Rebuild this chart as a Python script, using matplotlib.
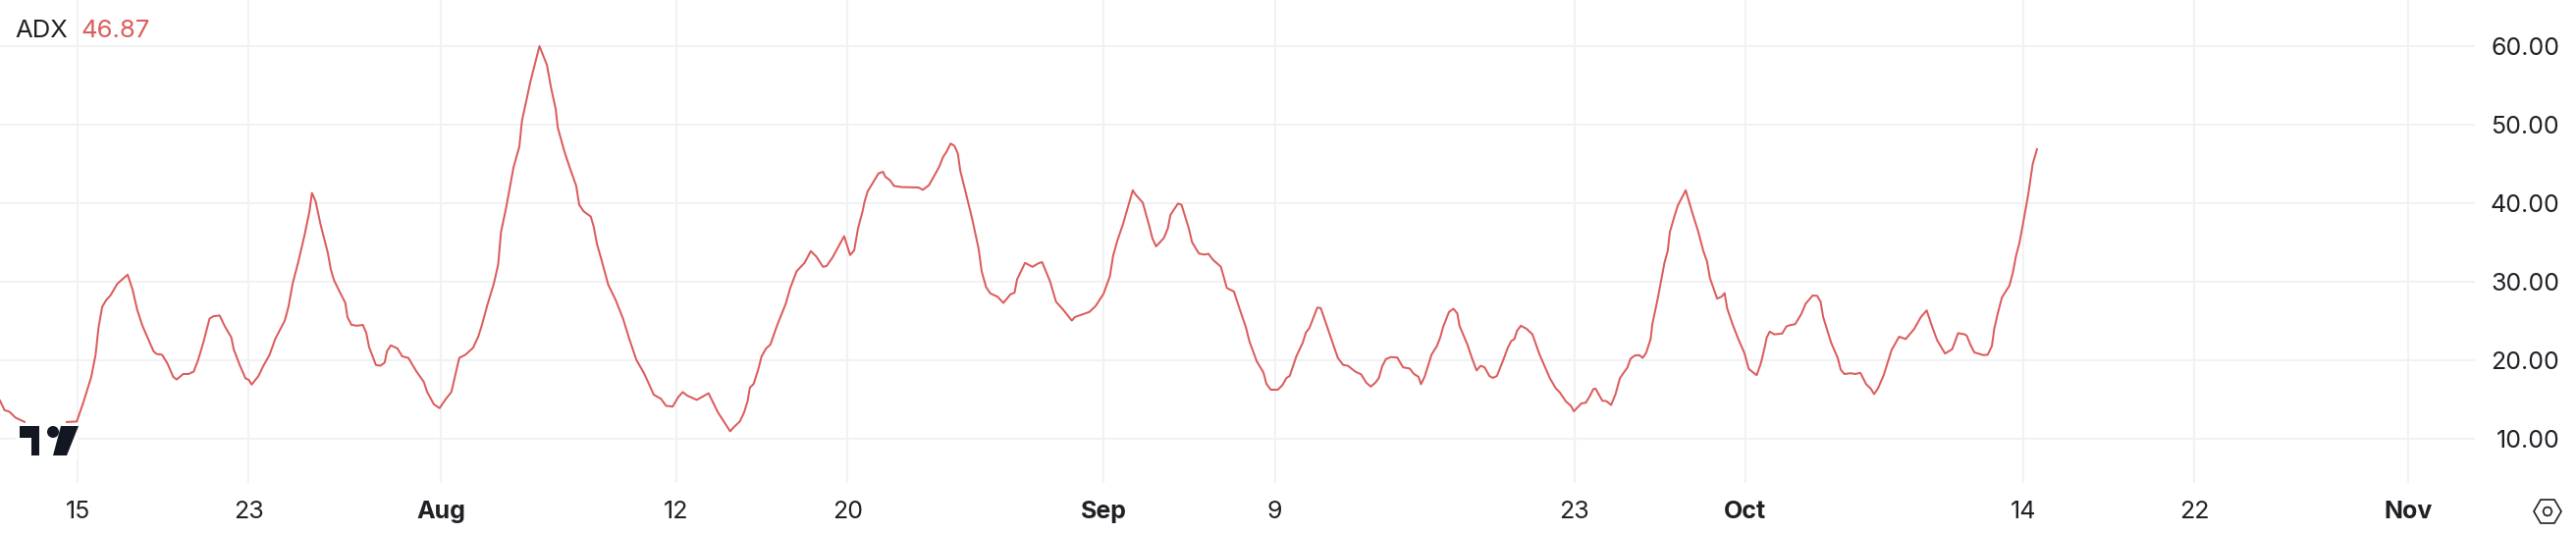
import matplotlib.pyplot as plt
from matplotlib.patches import Polygon, Circle, Rectangle

plt.rcParams["font.family"] = ["Inter", "DejaVu Sans"]

# days counted from 1 Jul
days = [
    10.37, 10.58, 10.82, 11.09, 11.5, 12.42, 13.45, 13.96, 14.27, 14.64, 14.84, 14.98, 15.15, 15.34, 15.54, 15.86,
    16.34, 16.57, 16.79, 17.03, 17.55, 17.69, 17.95, 18.2, 18.47, 18.63, 18.94, 19.18, 19.43, 19.64, 19.9, 20.17,
    20.35, 20.64, 20.89, 21.19, 21.3, 21.58, 21.85, 22.01, 22.14, 22.46, 22.67, 22.98, 23.24, 23.69, 23.86, 24.06,
    24.31, 24.61, 24.84, 24.96, 25.13, 25.37, 25.7, 25.84, 25.99, 26.25, 26.52, 26.62, 26.81, 27.07, 27.34, 27.5,
    27.63, 27.95, 28.16, 28.36, 28.47, 28.65, 28.96, 29.18, 29.47, 29.84, 30.19, 30.35, 30.66, 30.93, 31.23, 31.48,
    31.68, 31.85, 32.14, 32.5, 32.75, 32.92, 33.16, 33.47, 33.67, 33.8, 34.04, 34.39, 34.66, 34.78, 35.17, 35.6,
    35.95, 36.15, 36.36, 36.46, 36.77, 37.01, 37.32, 37.46, 37.67, 38.0, 38.14, 38.29, 38.49, 38.82, 39.16, 39.51,
    39.78, 40.13, 40.5, 40.95, 41.28, 41.52, 41.83, 42.09, 42.3, 42.51, 42.96, 43.51, 43.94, 44.52, 44.66, 44.97,
    45.17, 45.34, 45.44, 45.62, 45.83, 45.99, 46.2, 46.4, 46.71, 47.12, 47.33, 47.63, 48.0, 48.29, 48.55, 48.86,
    49.03, 49.31, 49.85, 50.13, 50.32, 50.5, 50.71, 50.81, 50.95, 51.46, 51.67, 51.77, 52.0, 52.18, 52.55, 53.33,
    53.53, 53.82, 54.29, 54.48, 54.64, 54.83, 55.01, 55.17, 55.28, 55.52, 55.83, 56.14, 56.28, 56.49, 56.69, 57.02,
    57.3, 57.63, 57.82, 57.94, 58.31, 58.66, 58.94, 59.11, 59.48, 59.76, 60.09, 60.5, 60.64, 61.05, 61.32, 61.61,
    61.98, 62.28, 62.43, 62.63, 62.9, 63.35, 63.45, 63.82, 64.13, 64.27, 64.44, 64.8, 64.99, 65.11, 65.46, 65.63,
    65.97, 66.12, 66.44, 66.69, 66.89, 67.1, 67.47, 67.75, 68.08, 68.37, 68.64, 68.8, 69.15, 69.46, 69.6, 69.8,
    70.13, 70.34, 70.54, 70.69, 71.0, 71.3, 71.45, 71.61, 71.98, 72.14, 72.53, 72.94, 73.19, 73.41, 73.76, 74.03,
    74.27, 74.48, 74.7, 74.86, 75.01, 75.19, 75.42, 75.72, 75.99, 76.3, 76.5, 76.71, 76.83, 77.0, 77.32, 77.57,
    77.73, 77.86, 78.14, 78.35, 78.53, 78.63, 79.0, 79.21, 79.43, 79.62, 79.8, 80.03, 80.19, 80.38, 80.68, 80.89,
    81.05, 81.2, 81.32, 81.5, 81.77, 82.04, 82.38, 82.86, 83.14, 83.31, 83.61, 83.84, 83.98, 84.33, 84.54, 84.74,
    84.88, 84.99, 85.31, 85.5, 85.72, 85.93, 86.13, 86.28, 86.48, 86.63, 86.83, 87.04, 87.2, 87.36, 87.57, 87.65,
    87.92, 88.22, 88.37, 88.47, 88.68, 88.84, 89.21, 89.5, 89.8, 90.03, 90.21, 90.34, 90.68, 90.89, 91.03, 91.15,
    91.4, 91.67, 91.95, 92.16, 92.36, 92.53, 92.73, 92.9, 93.0, 93.14, 93.35, 93.72, 93.92, 94.06, 94.33, 94.62,
    94.82, 95.15, 95.36, 95.52, 95.64, 96.01, 96.32, 96.46, 96.63, 96.93, 97.14, 97.38, 97.65, 97.86, 98.02, 98.2,
    98.47, 98.84, 99.19, 99.5, 99.9, 100.21, 100.48, 100.72, 100.97, 101.34, 101.67, 101.79, 101.95, 102.26, 102.36,
    102.53, 102.71, 103.14, 103.33, 103.53, 103.64, 103.8, 104.0, 104.35, 104.51, 104.66, 104.82, 104.99, 105.23,
    105.44, 105.64,
]
adx = [
    14.86, 13.65, 13.43, 12.7, 12.17, 11.6, 12.13, 12.2, 14.65, 17.9, 20.7, 24.2, 26.8, 27.67, 28.27, 29.75,
    30.9, 29.0, 26.4, 24.4, 21.15, 20.8, 20.7, 19.6, 17.9, 17.55, 18.25, 18.25, 18.55, 20.07, 22.45, 25.3,
    25.6, 25.7, 24.3, 22.9, 21.4, 19.4, 17.7, 17.5, 16.9, 18.0, 19.2, 20.7, 22.7, 25.06, 26.8, 29.8,
    32.4, 35.9, 38.9, 41.3, 40.25, 37.2, 33.7, 31.6, 30.2, 28.75, 27.3, 25.5, 24.5, 24.4, 24.5, 23.5,
    21.7, 19.4, 19.3, 19.7, 21.15, 21.9, 21.5, 20.5, 20.3, 18.6, 17.25, 15.95, 14.4, 13.9, 15.1, 15.95,
    18.3, 20.3, 20.7, 21.6, 23.1, 24.6, 27.0, 29.8, 32.2, 36.3, 39.4, 44.6, 47.2, 50.45, 55.4, 60.0,
    57.6, 54.6, 52.0, 49.6, 46.55, 44.6, 42.2, 39.8, 38.95, 38.3, 37.0, 34.8, 32.9, 29.6, 27.7, 25.3,
    22.9, 20.07, 18.3, 15.6, 15.1, 14.2, 14.1, 15.3, 15.95, 15.5, 14.95, 15.8, 13.4, 10.95, 11.4, 12.2,
    13.35, 14.85, 16.5, 17.0, 18.8, 20.5, 21.5, 22.0, 24.4, 27.2, 29.2, 31.35, 32.4, 33.9, 33.2, 31.9,
    32.0, 33.1, 35.8, 33.4, 34.0, 36.8, 38.95, 40.25, 41.5, 43.8, 44.0, 43.4, 42.9, 42.2, 42.05, 42.0,
    41.7, 42.3, 44.6, 45.9, 46.55, 47.6, 47.3, 46.3, 44.15, 41.55, 38.1, 34.2, 31.35, 29.3, 28.5, 28.1,
    27.3, 28.4, 28.6, 30.3, 32.4, 31.9, 32.35, 32.5, 30.05, 27.45, 26.45, 25.05, 25.5, 25.9, 26.15, 26.9,
    28.45, 30.7, 33.3, 35.25, 37.4, 41.65, 41.2, 40.05, 37.0, 35.5, 34.5, 35.55, 36.8, 38.5, 39.95, 39.8,
    36.8, 35.05, 33.6, 33.45, 33.55, 32.8, 31.9, 29.2, 28.75, 26.35, 24.2, 22.45, 19.85, 18.45, 17.0, 16.25,
    16.25, 16.8, 17.75, 18.0, 20.5, 22.25, 23.55, 24.1, 26.7, 26.65, 23.55, 20.3, 19.4, 19.3, 18.55, 18.2,
    17.15, 16.65, 17.15, 17.75, 19.2, 20.15, 20.4, 20.35, 19.1, 18.95, 18.25, 17.9, 16.95, 17.9, 20.7, 21.8,
    22.9, 24.2, 26.15, 26.55, 25.95, 24.4, 22.0, 20.3, 18.7, 19.3, 19.1, 18.0, 17.75, 18.0, 20.05, 21.6,
    22.45, 22.7, 23.75, 24.4, 24.0, 23.3, 20.7, 17.7, 16.4, 15.95, 14.75, 14.2, 13.5, 14.5, 14.6, 15.5,
    16.3, 16.4, 14.85, 14.8, 14.3, 15.7, 17.7, 18.3, 19.05, 20.2, 20.6, 20.65, 20.3, 20.95, 22.7, 24.6,
    28.1, 32.45, 33.95, 36.35, 38.3, 39.7, 41.65, 38.95, 36.35, 33.95, 32.55, 30.5, 27.85, 28.1, 28.55, 26.6,
    24.6, 22.7, 20.95, 18.9, 18.45, 18.1, 19.65, 21.6, 22.9, 23.65, 23.3, 23.4, 24.3, 24.45, 24.6, 25.9,
    27.2, 28.25, 28.2, 27.45, 25.5, 22.25, 20.3, 18.8, 18.25, 18.35, 18.25, 18.4, 16.95, 16.4, 15.7, 16.4,
    18.1, 21.3, 23.0, 22.7, 24.0, 25.5, 26.35, 24.4, 22.55, 20.85, 21.4, 22.25, 23.45, 23.3, 23.1,
    21.95, 21.0, 20.65, 20.7, 21.8, 24.0, 25.9, 28.0, 29.5, 31.15, 33.3, 34.95, 37.45, 41.1,
    45.0, 46.87,
]

tick_days = [14, 22, 31, 42, 50, 62, 70, 84, 92, 105, 113, 123]
tick_labels = ["15", "23", "Aug", "12", "20", "Sep", "9", "23", "Oct", "14", "22", "Nov"]
month_labels = ["Aug", "Sep", "Oct", "Nov"]
y_ticks = [10, 20, 30, 40, 50, 60]

RED = "#dc5c5c"
GRID = "#f1f2f4"
TEXT = "#1f2125"
W, H = 2624, 544


def main():
    fig = plt.figure(figsize=(W / 100, H / 100), dpi=100, facecolor="white")
    ax = fig.add_axes([0, 1 - 492 / H, 2521 / W, 492 / H])
    ax.plot(days, adx, color=RED, linewidth=1.45, zorder=3, solid_joinstyle="round")

    ax.set_xlim(10.37, 126.12)
    ax.set_ylim(4.375, 65.875)
    ax.set_xticks(tick_days)
    ax.set_xticklabels(tick_labels)
    ax.set_yticks(y_ticks)
    ax.set_yticklabels([f"{v:.2f}" for v in y_ticks], ha="right")
    ax.yaxis.tick_right()
    ax.grid(True, color=GRID, linewidth=1.5)
    ax.set_axisbelow(True)
    for side in ax.spines.values():
        side.set_visible(False)
    ax.tick_params(axis="x", length=0, pad=13, labelsize=18, labelcolor=TEXT)
    ax.tick_params(axis="y", length=0, pad=62, labelsize=18, labelcolor=TEXT)
    for lab in ax.get_xticklabels():
        if lab.get_text() in month_labels:
            lab.set_fontweight("bold")

    # header, logo and settings icon, in pixels of the figure
    top = fig.add_axes([0, 0, 1, 1], facecolor="none")
    top.set_xlim(0, W)
    top.set_ylim(H, 0)
    top.axis("off")
    top.text(15, 31, "ADX", color=TEXT, fontsize=18.5, va="center")
    top.text(83, 31, "46.87", color=RED, fontsize=18.5, va="center")

    top.add_patch(Rectangle((16, 431), 63, 37, color="white", lw=0))
    top.add_patch(Rectangle((26, 426), 41, 6, color="white", lw=0))
    top.add_patch(Polygon([(20, 434), (39.5, 434), (39.5, 464), (32, 464), (32, 446), (20, 446)], color="#131722", lw=0))
    top.add_patch(Circle((54, 440), 6, color="#131722", lw=0))
    top.add_patch(Polygon([(62, 434), (80, 434), (68, 464), (54, 464)], color="#131722", lw=0))

    top.add_patch(Polygon([(2581, 521), (2588, 509), (2602, 509), (2609, 521), (2602, 533), (2588, 533)],
                          fill=False, edgecolor=TEXT, lw=1.2))
    top.add_patch(Polygon([(2590.5, 521), (2592, 517.5), (2595, 516.5), (2598, 517.5), (2599.5, 521),
                           (2598, 524.5), (2595, 525.5), (2592, 524.5)],
                          fill=False, edgecolor=TEXT, lw=1.2))

    fig.savefig("out.png", dpi=100, facecolor="white")


if __name__ == "__main__":
    main()
